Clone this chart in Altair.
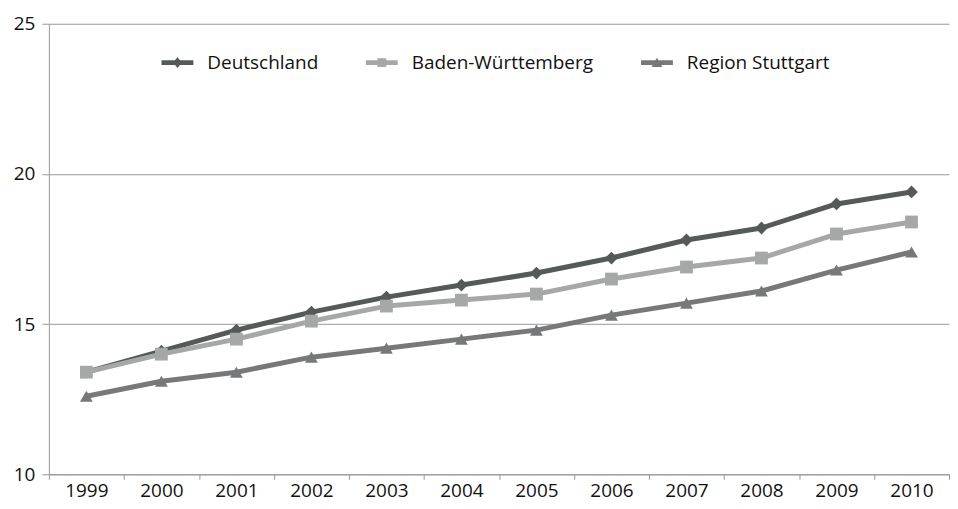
import altair as alt
import pandas as pd

years = ["1999", "2000", "2001", "2002", "2003", "2004", "2005", "2006", "2007", "2008", "2009", "2010"]
deutschland = [13.4, 14.1, 14.8, 15.4, 15.9, 16.3, 16.7, 17.2, 17.8, 18.2, 19.0, 19.4]
baden_wuerttemberg = [13.4, 14.0, 14.5, 15.1, 15.6, 15.8, 16.0, 16.5, 16.9, 17.2, 18.0, 18.4]
region_stuttgart = [12.6, 13.1, 13.4, 13.9, 14.2, 14.5, 14.8, 15.3, 15.7, 16.1, 16.8, 17.4]

names = ["Deutschland", "Baden-Württemberg", "Region Stuttgart"]
colors = ["#56595a", "#a6a8a8", "#76787a"]
shapes = ["diamond", "square", "triangle-up"]
y_ticks = [10, 15, 20, 25]

rows = []
for name, vals in zip(names, [deutschland, baden_wuerttemberg, region_stuttgart]):
    for i, (yr, v) in enumerate(zip(years, vals)):
        rows.append({"Jahr": yr, "Wert": v, "Reihe": name, "Legende": name, "order": i})
df = pd.DataFrame(rows)

# legend symbols: line segment plus marker (normalized symbol paths)
bar = "M-1.6,-0.25L1.6,-0.25L1.6,0.25L-1.6,0.25Z"
legend_shapes = [
    bar + "M0,-0.55L0.45,0L0,0.55L-0.45,0Z",
    bar + "M-0.45,-0.45L0.45,-0.45L0.45,0.45L-0.45,0.45Z",
    bar + "M0,-0.5L0.55,0.45L-0.55,0.45Z",
]

FONT = "Open Sans"

legend = alt.Legend(
    orient="none",
    legendX=119,
    legendY=29,
    direction="horizontal",
    title=None,
    labelFont=FONT,
    labelFontSize=19,
    labelColor="#111111",
    labelLimit=400,
    symbolSize=400,
    symbolStrokeWidth=0,
    symbolOpacity=1,
    labelOffset=20,
    columnPadding=47,
    padding=0,
)

x = alt.X(
    "Jahr:O",
    sort=years,
    scale=alt.Scale(type="band", paddingInner=0, paddingOuter=0),
    axis=alt.Axis(
        title=None,
        labelAngle=0,
        tickBand="extent",
        tickSize=5,
        labelPadding=2,
        labelFontSize=19,
        grid=False,
    ),
)
y = alt.Y(
    "Wert:Q",
    scale=alt.Scale(domain=[10, 25], nice=False, zero=False),
    axis=alt.Axis(
        title=None,
        values=y_ticks,
        grid=True,
        tickSize=7,
        labelPadding=7,
        labelFontSize=19,
    ),
)
color = alt.Color("Reihe:N", sort=names, scale=alt.Scale(domain=names, range=colors), legend=None)

base = alt.Chart(df).encode(x=x, y=y)

lines = base.mark_line(strokeWidth=5, strokeJoin="round", strokeCap="round").encode(
    color=color, order="order:Q"
)
points = base.mark_point(filled=True, size=165, opacity=1).encode(
    color=color,
    shape=alt.Shape("Reihe:N", sort=names, scale=alt.Scale(domain=names, range=shapes), legend=None),
)
legend_layer = (
    base.mark_point(filled=True, size=400, opacity=1, strokeWidth=0)
    .encode(
        color=alt.Color("Legende:N", sort=names, scale=alt.Scale(domain=names, range=colors), legend=legend),
        shape=alt.Shape("Legende:N", sort=names, scale=alt.Scale(domain=names, range=legend_shapes), legend=legend),
    )
    .transform_filter("false")
)

chart = (
    alt.layer(lines, points, legend_layer)
    .resolve_scale(color="independent", shape="independent")
    .properties(width=903, height=452, padding={"left": 5, "top": 6, "right": 0, "bottom": 6})
    .configure_view(stroke=None)
    .configure_axis(
        domainColor="#999999",
        tickColor="#999999",
        gridColor="#999999",
        labelFont=FONT,
        labelFontSize=18,
        labelColor="#111111",
    )
)

chart.save("out.html", embed_options={"renderer": "svg", "actions": False})
